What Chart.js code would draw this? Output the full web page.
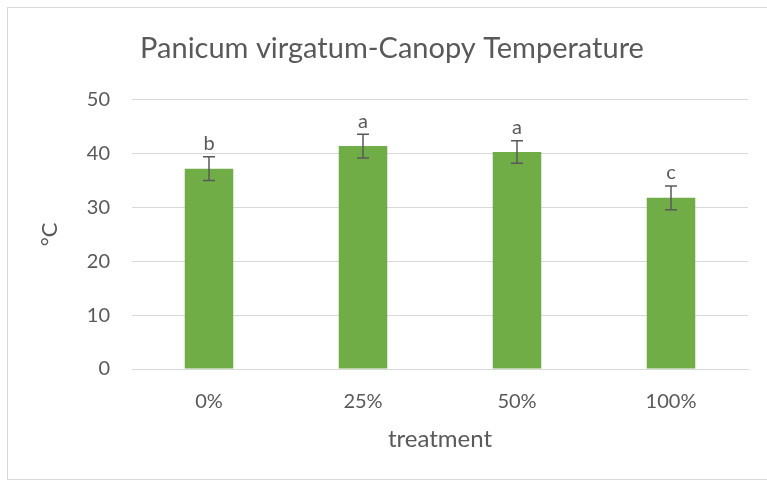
<!DOCTYPE html>
<html>
<head>
<meta charset="utf-8">
<script src="https://cdn.jsdelivr.net/npm/chart.js@4"></script>
<style>
  html, body { margin: 0; padding: 0; background: #ffffff; overflow: hidden; }
  #frame { position: absolute; left: 7px; top: 7px; width: 800px; height: 473px; border: 1px solid #d9d9d9; box-sizing: border-box; }
  #wrap { position: absolute; left: 0; top: 0; width: 767px; height: 482px; }
</style>
</head>
<body>
<div id="frame"></div>
<div id="wrap"><canvas id="c" width="767" height="482"></canvas></div>
<script>
const categories = ['0%', '25%', '50%', '100%'];
const values = [37.2, 41.4, 40.3, 31.8];
const errors = [2.2, 2.2, 2.1, 2.2];
const letters = ['b', 'a', 'a', 'c'];
const yMin = 0, yMax = 50, yStep = 10;

const FONT = 'Lato, "Open Sans", sans-serif';
const TEXT = '#595959';

const errorBarPlugin = {
  id: 'errorBars',
  afterDatasetsDraw(chart) {
    const ctx = chart.ctx;
    const meta = chart.getDatasetMeta(0);
    const ys = chart.scales.y;
    ctx.save();
    ctx.strokeStyle = '#595959';
    ctx.lineWidth = 1.5;
    meta.data.forEach((bar, i) => {
      const x = bar.x;
      const top = ys.getPixelForValue(values[i] + errors[i]);
      const bot = ys.getPixelForValue(values[i] - errors[i]);
      ctx.beginPath();
      ctx.moveTo(x, top); ctx.lineTo(x, bot);
      ctx.moveTo(x - 6, top); ctx.lineTo(x + 6, top);
      ctx.moveTo(x - 6, bot); ctx.lineTo(x + 6, bot);
      ctx.stroke();
      ctx.fillStyle = TEXT;
      ctx.font = '20px ' + FONT;
      ctx.textAlign = 'center';
      ctx.textBaseline = 'middle';
      ctx.fillText(letters[i], x, top - 13);
    });
    ctx.restore();
  }
};

new Chart(document.getElementById('c'), {
  type: 'bar',
  data: {
    labels: categories,
    datasets: [{
      data: values,
      backgroundColor: '#70ad47',
      borderWidth: 0,
      categoryPercentage: 1.0,
      barPercentage: 0.315
    }]
  },
  options: {
    responsive: false,
    animation: false,
    devicePixelRatio: 1,
    layout: { padding: { left: 36, right: 19, top: 0, bottom: 0 } },
    plugins: {
      legend: { display: false },
      tooltip: { enabled: false },
      title: {
        display: true,
        text: 'Panicum virgatum-Canopy Temperature',
        color: TEXT,
        font: { family: FONT, size: 29, weight: 'normal' },
        padding: { top: 31, bottom: 34 }
      }
    },
    scales: {
      x: {
        grid: { display: false, drawTicks: false },
        border: { display: true, color: '#d9d9d9', width: 1 },
        ticks: { color: TEXT, font: { family: FONT, size: 20 }, padding: 21 },
        title: {
          display: true, text: 'treatment', color: TEXT,
          font: { family: FONT, size: 24 }, padding: { top: 0, bottom: 28 }
        },
        afterFit(scale) { scale.height = 113; }
      },
      y: {
        min: yMin, max: yMax,
        grid: { color: '#d9d9d9', lineWidth: 1, drawTicks: false },
        border: { display: false },
        ticks: { stepSize: yStep, color: TEXT, font: { family: FONT, size: 20 }, padding: 22 },
        title: {
          display: true, text: '°C', color: TEXT,
          font: { family: FONT, size: 22 }, padding: { top: 1, bottom: 0 }
        },
        afterFit(scale) { scale.width = 96; }
      }
    }
  },
  plugins: [errorBarPlugin]
});
</script>
</body>
</html>
